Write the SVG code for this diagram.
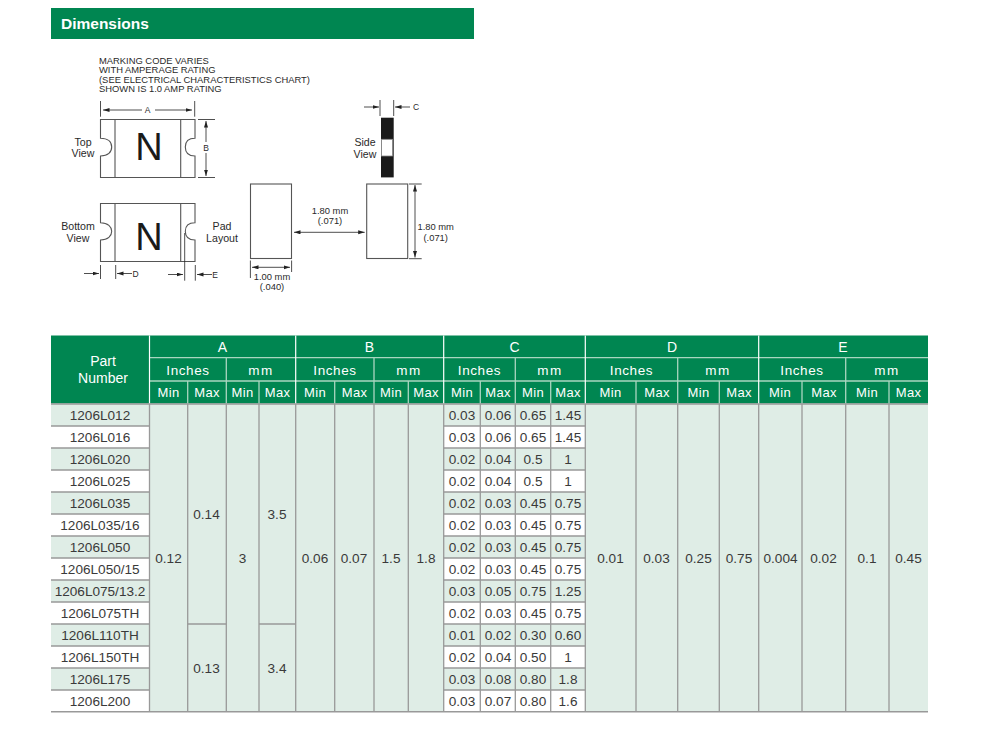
<svg xmlns="http://www.w3.org/2000/svg" width="992" height="737" viewBox="0 0 992 737">
<style>
text{font-family:"Liberation Sans",Arial,sans-serif;fill:#3a3a3a;text-anchor:middle}
.d{font-size:10.6px;fill:#2a2a2a}
.n{font-size:9.4px;fill:#2a2a2a}
.c{font-size:8.5px;fill:#2a2a2a}
.s{font-size:9.4px;fill:#2a2a2a;text-anchor:start}
.t{font-size:13.6px}
.h{font-size:14px;fill:#fff}
.m{font-size:13px;fill:#fff;letter-spacing:.3px}
.u{font-size:13.5px;fill:#fff;letter-spacing:.6px}
.v{font-size:13.5px;fill:#fff;letter-spacing:1.4px}
.o{fill:none;stroke:#555;stroke-width:1.1}
.k{fill:none;stroke:#222;stroke-width:.8}
.a{fill:none;stroke:#222;stroke-width:.8;marker-end:url(#ah)}
.g{stroke:#999;stroke-width:1.3;fill:none}
.w{stroke:#fff;stroke-width:1.2;fill:none}
.l{stroke:#a9d6c0;stroke-width:1.3;fill:none}
</style>
<defs><marker id="ah" markerWidth="8" markerHeight="6" refX="6.5" refY="2" orient="auto" markerUnits="userSpaceOnUse"><path d="M0 0L6.5 2L0 4z" fill="#222"/></marker></defs>
<rect width="992" height="737" fill="#fff"/>
<g id="title"><rect x="51" y="8" width="423" height="31" fill="#008651"/><text x="61" y="29" style="font-size:15.5px;font-weight:bold;fill:#fff;text-anchor:start">Dimensions</text></g>
<g id="note"><text class="s" x="99" y="64">MARKING CODE VARIES</text><text class="s" x="99" y="73">WITH AMPERAGE RATING</text><text class="s" x="99" y="82.5">(SEE ELECTRICAL CHARACTERISTICS CHART)</text><text class="s" x="99" y="92">SHOWN IS 1.0 AMP RATING</text></g>
<g id="top-view">
<path class="o" d="M100.5 119.5H195V138.3C187 138.3 185.3 143 185.3 147C185.3 151 187 156 195 156V177.5H100.5V156C108 156 111.7 152 111.7 147C111.7 142 108 138.3 100.5 138.3Z"/>
<path class="o" d="M115 119.5V177.5M180.7 119.5V177.5"/>
<text x="149" y="160" style="font-size:38px;fill:#1a1a1a">N</text>
<text class="d" x="83" y="145.500">Top</text><text class="d" x="83" y="157">View</text>
</g>
<g id="bottom-view">
<path class="o" d="M100.5 203.5H195V222.7C187 222.7 185.3 227 185.3 231.3C185.3 236 187 240 195 240V261.5H100.5V240C108 240 111.7 236 111.7 231.3C111.7 227 108 222.7 100.5 222.7Z"/>
<path class="o" d="M115 203.5V261.5M180.7 203.5V261.5"/>
<text x="149" y="250" style="font-size:38px;fill:#1a1a1a">N</text>
<text class="d" x="78" y="230">Bottom</text><text class="d" x="78" y="242">View</text>
<text class="d" x="222" y="230">Pad</text><text class="d" x="222" y="242">Layout</text>
</g>
<g id="pads"><rect class="o" x="250.5" y="184" width="41" height="74.5"/><rect class="o" x="366.7" y="184" width="41" height="74.5"/></g>
<g id="side-view">
<rect x="381" y="117.7" width="12.7" height="59.7" fill="#1a1a1a"/><rect x="381.5" y="139.3" width="11" height="16.7" fill="#fff" stroke="#888" stroke-width=".8"/>
<text class="d" x="365" y="146">Side</text><text class="d" x="365" y="158">View</text>
</g>
<g id="connectors">
<path class="k" d="M100.5 101V116.7M194.7 101V116.7"/>
<path class="a" d="M142 110H103"/><path class="a" d="M155 110H192"/>
<path class="k" d="M198 119.5H215M198 177.5H215"/>
<path class="a" d="M206 142V121"/><path class="a" d="M206 153V176"/>
<path class="k" d="M100.5 265V279M115.7 265V279M184.7 233V280.7M195.3 265V280.7"/>
<path class="a" d="M84 273.5H99"/><path class="a" d="M132 273.5H117"/><path class="a" d="M168 274.5H183"/><path class="a" d="M212 274.5H197"/>
<path class="k" d="M380 100V116M393.7 100V116"/>
<path class="a" d="M364 107H379"/><path class="a" d="M410 107H395"/>
<path class="k" d="M250.4 260.5V278M291.6 260.5V272"/>
<path class="a" d="M271 267.3H252"/><path class="a" d="M271 267.3H290"/>
<path class="a" d="M330 232.3H294"/><path class="a" d="M330 232.3H364.7"/>
<path class="k" d="M409 184H421.7M409 258.7H421.7"/>
<path class="a" d="M415 221V185"/><path class="a" d="M415 221V257.5"/>
</g>
<g id="dimension-labels">
<text class="c" x="147.5" y="113">A</text><text class="c" x="206" y="151">B</text><text class="c" x="135.500" y="277">D</text><text class="c" x="215" y="277.500">E</text><text class="c" x="416" y="110">C</text>
<text class="n" x="330" y="213.500">1.80 mm</text><text class="n" x="330" y="224">(.071)</text>
<text class="n" x="435.700" y="230">1.80 mm</text><text class="n" x="435.700" y="241">(.071)</text>
<text class="n" x="272" y="279.500">1.00 mm</text><text class="n" x="272" y="290">(.040)</text>
</g>
<g id="table">
<rect x="51" y="404" width="877" height="308" fill="#dfede6"/>
<path fill="#fff" d="M51 426H149.500V448H51ZM51 470H149.500V492H51ZM51 514H149.500V536H51ZM51 558H149.500V580H51ZM51 602H149.500V624H51ZM51 646H149.500V668H51ZM51 690H149.500V712H51ZM443.700 426H585.300V448H443.700ZM443.700 470H585.300V492H443.700ZM443.700 514H585.300V536H443.700ZM443.700 558H585.300V580H443.700ZM443.700 602H585.300V624H443.700ZM443.700 646H585.300V668H443.700ZM443.700 690H585.300V712H443.700Z"/>
<rect x="51" y="335.500" width="877" height="68" fill="#008651"/>
<path class="l" d="M149.500 357.700H928M149.500 381H928M226.300 358V404M374 358V404M515.300 358V404M677.700 358V404M845.700 358V404M187.700 381V404M259 381V404M334.700 381V404M408.300 381V404M480.300 381V404M550.700 381V404M636 381V404M719.300 381V404M802 381V404M889 381V404"/>
<path class="w" d="M149.500 335.500V404M295.700 335.500V404M443.700 335.500V404M585.300 335.500V404M758.700 335.500V404"/>
<path class="g" d="M51 404H928M149.500 404V712M187.700 404V712M226.300 404V712M259 404V712M295.700 404V712M334.700 404V712M374 404V712M408.300 404V712M443.700 404V712M480.300 404V712M515.300 404V712M550.700 404V712M585.300 404V712M636 404V712M677.700 404V712M719.300 404V712M758.700 404V712M802 404V712M845.700 404V712M889 404V712"/>
<path class="g" d="M51 426H149.500M51 448H149.500M51 470H149.500M51 492H149.500M51 514H149.500M51 536H149.500M51 558H149.500M51 580H149.500M51 602H149.500M51 624H149.500M51 646H149.500M51 668H149.500M51 690H149.500M443.700 426H585.300M443.700 448H585.300M443.700 470H585.300M443.700 492H585.300M443.700 514H585.300M443.700 536H585.300M443.700 558H585.300M443.700 580H585.300M443.700 602H585.300M443.700 624H585.300M443.700 646H585.300M443.700 668H585.300M443.700 690H585.300M187.700 624H226.300M259 624H295.700"/>
<path d="M51 711.700H928" stroke="#999" stroke-width="1.6"/>
<g id="header">
<text class="h" x="103" y="366">Part</text><text class="h" x="103" y="383">Number</text>
<text class="h" x="222.500" y="352">A</text><text class="h" x="369.500" y="352">B</text><text class="h" x="514.500" y="352">C</text><text class="h" x="672" y="352">D</text><text class="h" x="843" y="352">E</text>
<text class="u" x="188" y="375">Inches</text><text class="v" x="261" y="375">mm</text><text class="u" x="335" y="375">Inches</text><text class="v" x="409" y="375">mm</text><text class="u" x="479.500" y="375">Inches</text><text class="v" x="550" y="375">mm</text><text class="u" x="631.500" y="375">Inches</text><text class="v" x="718" y="375">mm</text><text class="u" x="802" y="375">Inches</text><text class="v" x="887" y="375">mm</text>
<text class="m" x="168.500" y="397">Min</text><text class="m" x="207" y="397">Max</text><text class="m" x="242.500" y="397">Min</text><text class="m" x="277.500" y="397">Max</text><text class="m" x="315" y="397">Min</text><text class="m" x="354.500" y="397">Max</text><text class="m" x="391" y="397">Min</text><text class="m" x="426" y="397">Max</text><text class="m" x="462" y="397">Min</text><text class="m" x="498" y="397">Max</text><text class="m" x="533" y="397">Min</text><text class="m" x="568" y="397">Max</text><text class="m" x="610.500" y="397">Min</text><text class="m" x="657" y="397">Max</text><text class="m" x="698.500" y="397">Min</text><text class="m" x="739" y="397">Max</text><text class="m" x="780" y="397">Min</text><text class="m" x="824" y="397">Max</text><text class="m" x="867" y="397">Min</text><text class="m" x="908.500" y="397">Max</text>
</g>
<g id="parts">
<text class="t" x="100" y="420">1206L012</text><text class="t" x="100" y="442">1206L016</text><text class="t" x="100" y="464">1206L020</text><text class="t" x="100" y="486">1206L025</text><text class="t" x="100" y="508">1206L035</text><text class="t" x="100" y="530">1206L035/16</text><text class="t" x="100" y="552">1206L050</text><text class="t" x="100" y="574">1206L050/15</text><text class="t" x="100" y="596">1206L075/13.2</text><text class="t" x="100" y="618">1206L075TH</text><text class="t" x="100" y="640">1206L110TH</text><text class="t" x="100" y="662">1206L150TH</text><text class="t" x="100" y="684">1206L175</text><text class="t" x="100" y="706">1206L200</text>
</g>
<g id="c-values">
<text class="t" x="462" y="420">0.03</text><text class="t" x="498" y="420">0.06</text><text class="t" x="533" y="420">0.65</text><text class="t" x="568" y="420">1.45</text>
<text class="t" x="462" y="442">0.03</text><text class="t" x="498" y="442">0.06</text><text class="t" x="533" y="442">0.65</text><text class="t" x="568" y="442">1.45</text>
<text class="t" x="462" y="464">0.02</text><text class="t" x="498" y="464">0.04</text><text class="t" x="533" y="464">0.5</text><text class="t" x="568" y="464">1</text>
<text class="t" x="462" y="486">0.02</text><text class="t" x="498" y="486">0.04</text><text class="t" x="533" y="486">0.5</text><text class="t" x="568" y="486">1</text>
<text class="t" x="462" y="508">0.02</text><text class="t" x="498" y="508">0.03</text><text class="t" x="533" y="508">0.45</text><text class="t" x="568" y="508">0.75</text>
<text class="t" x="462" y="530">0.02</text><text class="t" x="498" y="530">0.03</text><text class="t" x="533" y="530">0.45</text><text class="t" x="568" y="530">0.75</text>
<text class="t" x="462" y="552">0.02</text><text class="t" x="498" y="552">0.03</text><text class="t" x="533" y="552">0.45</text><text class="t" x="568" y="552">0.75</text>
<text class="t" x="462" y="574">0.02</text><text class="t" x="498" y="574">0.03</text><text class="t" x="533" y="574">0.45</text><text class="t" x="568" y="574">0.75</text>
<text class="t" x="462" y="596">0.03</text><text class="t" x="498" y="596">0.05</text><text class="t" x="533" y="596">0.75</text><text class="t" x="568" y="596">1.25</text>
<text class="t" x="462" y="618">0.02</text><text class="t" x="498" y="618">0.03</text><text class="t" x="533" y="618">0.45</text><text class="t" x="568" y="618">0.75</text>
<text class="t" x="462" y="640">0.01</text><text class="t" x="498" y="640">0.02</text><text class="t" x="533" y="640">0.30</text><text class="t" x="568" y="640">0.60</text>
<text class="t" x="462" y="662">0.02</text><text class="t" x="498" y="662">0.04</text><text class="t" x="533" y="662">0.50</text><text class="t" x="568" y="662">1</text>
<text class="t" x="462" y="684">0.03</text><text class="t" x="498" y="684">0.08</text><text class="t" x="533" y="684">0.80</text><text class="t" x="568" y="684">1.8</text>
<text class="t" x="462" y="706">0.03</text><text class="t" x="498" y="706">0.07</text><text class="t" x="533" y="706">0.80</text><text class="t" x="568" y="706">1.6</text>
</g>
<g id="merged-values">
<text class="t" x="168.500" y="563">0.12</text><text class="t" x="206.500" y="519">0.14</text><text class="t" x="206.500" y="673">0.13</text><text class="t" x="242.500" y="563">3</text><text class="t" x="277" y="519">3.5</text><text class="t" x="277" y="673">3.4</text>
<text class="t" x="315" y="563">0.06</text><text class="t" x="354" y="563">0.07</text><text class="t" x="391" y="563">1.5</text><text class="t" x="426" y="563">1.8</text>
<text class="t" x="610.500" y="563">0.01</text><text class="t" x="656.500" y="563">0.03</text><text class="t" x="698.500" y="563">0.25</text><text class="t" x="739" y="563">0.75</text><text class="t" x="780.500" y="563">0.004</text><text class="t" x="823.500" y="563">0.02</text><text class="t" x="867" y="563">0.1</text><text class="t" x="908.500" y="563">0.45</text>
</g>
</g>
</svg>
